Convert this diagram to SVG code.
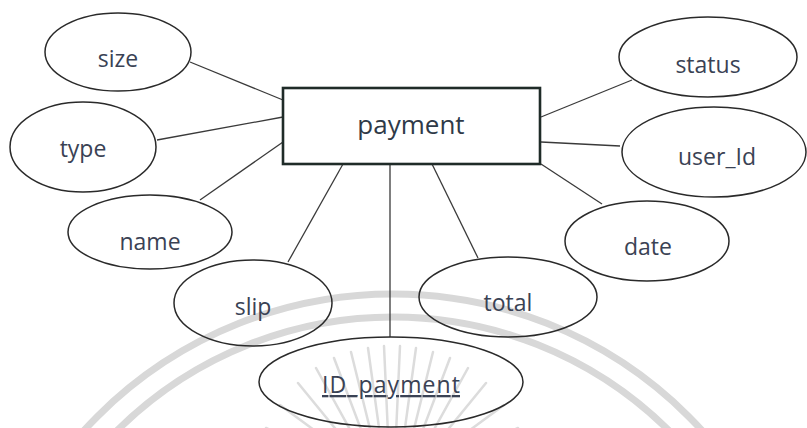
<svg xmlns="http://www.w3.org/2000/svg" width="807" height="428" viewBox="0 0 807 428">
<style>
.ent{fill:#fff;stroke:#1f2b28;stroke-width:2.6}
.att{fill:none;stroke:#2a2a2a;stroke-width:1.5}
.lbl{font-family:"Open Sans","Noto Sans",sans-serif;font-size:23px;fill:#3a4254;text-anchor:middle}
.ttl{font-family:"Open Sans","Noto Sans",sans-serif;font-size:26px;fill:#2f3a48;text-anchor:middle}
.wm{fill:none;stroke:#d8d8d8;stroke-width:7}
.ray{stroke:#dcdcdc;stroke-width:2.5;stroke-linecap:round}
#connectors line{stroke:#3a3a3a;stroke-width:1.3}
</style>
<rect width="807" height="428" fill="#fff"/>
<g id="watermark">
<circle class="wm" cx="393" cy="712" r="418"/>
<circle class="wm" cx="393" cy="709" r="392"/>
<g class="ray">
<line x1="348" y1="455" x2="280" y2="405"/>
<line x1="352" y1="449" x2="298" y2="383"/>
<line x1="358" y1="444" x2="316" y2="368"/>
<line x1="365" y1="440" x2="334" y2="358"/>
<line x1="372" y1="437" x2="351" y2="352"/>
<line x1="380" y1="435" x2="368" y2="348"/>
<line x1="388" y1="434" x2="384" y2="346"/>
<line x1="396" y1="434" x2="400" y2="346"/>
<line x1="404" y1="435" x2="416" y2="348"/>
<line x1="412" y1="437" x2="433" y2="352"/>
<line x1="419" y1="440" x2="450" y2="358"/>
<line x1="426" y1="444" x2="468" y2="368"/>
<line x1="432" y1="449" x2="486" y2="383"/>
<line x1="436" y1="455" x2="504" y2="405"/>
<line x1="345" y1="462" x2="266" y2="428"/>
<line x1="440" y1="462" x2="518" y2="428"/>
</g>
</g>
<g id="connectors">
<line x1="190" y1="62" x2="283" y2="100"/>
<line x1="157" y1="140" x2="283" y2="117"/>
<line x1="283" y1="142" x2="200" y2="200"/>
<line x1="343" y1="164" x2="288" y2="262"/>
<line x1="390" y1="164" x2="390" y2="337"/>
<line x1="432" y1="164" x2="478" y2="258"/>
<line x1="541" y1="164" x2="602" y2="204"/>
<line x1="541" y1="117" x2="632" y2="80"/>
<line x1="541" y1="142" x2="620" y2="146"/>
</g>
<g id="payment">
<rect class="ent" x="283" y="88" width="257" height="76"/>
<text class="ttl" x="411" y="134">payment</text>
</g>
<g id="size">
<ellipse class="att" cx="118" cy="52" rx="73" ry="39"/>
<text class="lbl" x="118" y="67">size</text>
</g>
<g id="type">
<ellipse class="att" cx="83" cy="147" rx="73" ry="45"/>
<text class="lbl" x="83" y="157">type</text>
</g>
<g id="name">
<ellipse class="att" cx="150" cy="232" rx="82" ry="37"/>
<text class="lbl" x="150" y="250">name</text>
</g>
<g id="slip">
<ellipse class="att" cx="253" cy="303" rx="79" ry="43"/>
<text class="lbl" x="253" y="315">slip</text>
</g>
<g id="ID_payment">
<ellipse class="att" cx="391" cy="382" rx="132" ry="45"/>
<text class="lbl" x="391" y="393" text-decoration="underline" textLength="138" lengthAdjust="spacing">ID_payment</text>
</g>
<g id="total">
<ellipse class="att" cx="508" cy="297" rx="89" ry="40"/>
<text class="lbl" x="508" y="311">total</text>
</g>
<g id="date">
<ellipse class="att" cx="647" cy="241" rx="82" ry="40"/>
<text class="lbl" x="648" y="255">date</text>
</g>
<g id="status">
<ellipse class="att" cx="708" cy="57" rx="89" ry="40"/>
<text class="lbl" x="708" y="73">status</text>
</g>
<g id="user_Id">
<ellipse class="att" cx="714" cy="152" rx="92" ry="45"/>
<text class="lbl" x="717" y="165">user_Id</text>
</g>
</svg>
